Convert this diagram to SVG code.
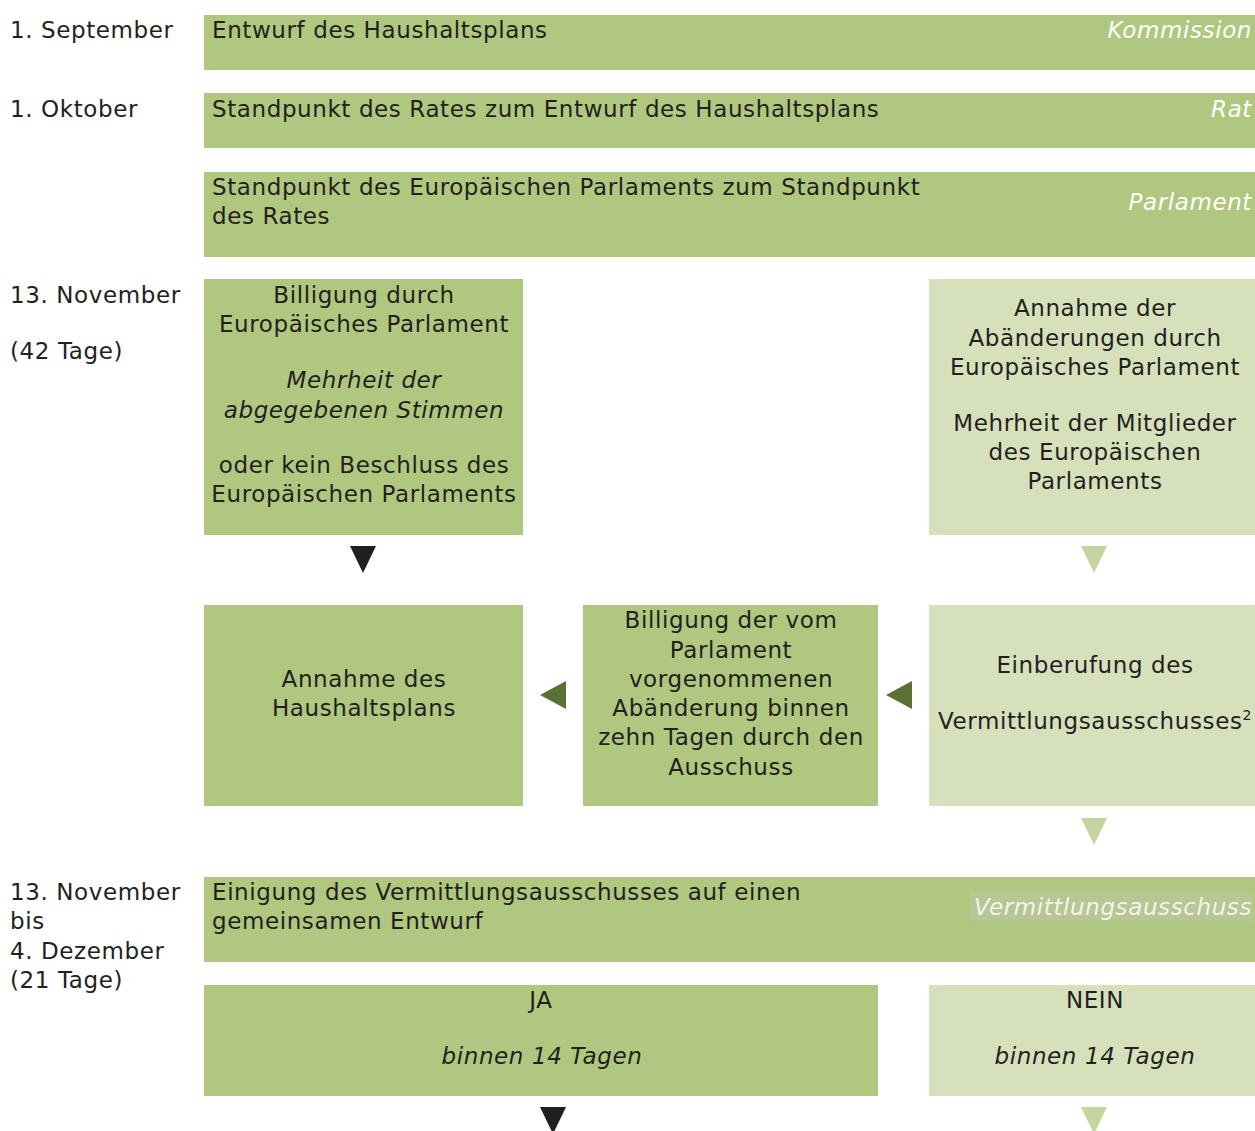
<svg xmlns="http://www.w3.org/2000/svg" width="1255" height="1131" viewBox="0 0 1255 1131">
<style>
text{font-family:"DejaVu Sans",Verdana,sans-serif;font-size:23px;letter-spacing:0.6px;fill:#231f20}
.c{text-anchor:middle}
.i{font-style:italic}
.w{fill:#ffffff;font-style:italic;text-anchor:end}
.g{fill:#b0c77f}
.l{fill:#d6e1bc}
</style>
<rect width="1255" height="1131" fill="#ffffff"/>
<g id="labels">
<text x="10" y="38">1. September</text>
<text x="10" y="117">1. Oktober</text>
<text x="10" y="303">13. November</text>
<text x="10" y="359">(42 Tage)</text>
<text x="10" y="900">13. November</text>
<text x="10" y="929">bis</text>
<text x="10" y="959">4. Dezember</text>
<text x="10" y="988">(21 Tage)</text>
</g>
<g id="entwurf">
<rect class="g" x="204" y="15" width="1051" height="55"/>
<text x="212" y="38">Entwurf des Haushaltsplans</text>
<text class="w" x="1252" y="38">Kommission</text>
</g>
<g id="rat">
<rect class="g" x="204" y="93" width="1051" height="55"/>
<text x="212" y="117">Standpunkt des Rates zum Entwurf des Haushaltsplans</text>
<text class="w" x="1252" y="117">Rat</text>
</g>
<g id="parlament">
<rect class="g" x="204" y="172" width="1051" height="85"/>
<text x="212" y="195">Standpunkt des Europäischen Parlaments zum Standpunkt</text>
<text x="212" y="224">des Rates</text>
<text class="w" x="1252" y="210">Parlament</text>
</g>
<g id="billigung">
<rect class="g" x="204" y="279" width="319" height="256"/>
<text class="c" x="364" y="303">Billigung durch</text>
<text class="c" x="364" y="332">Europäisches Parlament</text>
<text class="c i" x="364" y="388">Mehrheit der</text>
<text class="c i" x="364" y="418">abgegebenen Stimmen</text>
<text class="c" x="364" y="473">oder kein Beschluss des</text>
<text class="c" x="364" y="502">Europäischen Parlaments</text>
</g>
<g id="abaenderungen">
<rect class="l" x="929" y="279" width="326" height="256"/>
<text class="c" x="1095" y="316">Annahme der</text>
<text class="c" x="1095" y="346">Abänderungen durch</text>
<text class="c" x="1095" y="375">Europäisches Parlament</text>
<text class="c" x="1095" y="431">Mehrheit der Mitglieder</text>
<text class="c" x="1095" y="460">des Europäischen</text>
<text class="c" x="1095" y="489">Parlaments</text>
</g>
<g id="annahme">
<rect class="g" x="204" y="605" width="319" height="201"/>
<text class="c" x="364" y="687">Annahme des</text>
<text class="c" x="364" y="716">Haushaltsplans</text>
</g>
<g id="billigung-ausschuss">
<rect class="g" x="583" y="605" width="295" height="201"/>
<text class="c" x="731" y="628">Billigung der vom</text>
<text class="c" x="731" y="658">Parlament</text>
<text class="c" x="731" y="687">vorgenommenen</text>
<text class="c" x="731" y="716">Abänderung binnen</text>
<text class="c" x="731" y="745">zehn Tagen durch den</text>
<text class="c" x="731" y="775">Ausschuss</text>
</g>
<g id="einberufung">
<rect class="l" x="929" y="605" width="326" height="201"/>
<text class="c" x="1095" y="673">Einberufung des</text>
<text class="c" x="1095" y="729">Vermittlungsausschusses<tspan font-size="14" dy="-9">2</tspan></text>
</g>
<g id="einigung">
<rect class="g" x="204" y="877" width="1051" height="85"/>
<text x="212" y="900">Einigung des Vermittlungsausschusses auf einen</text>
<text x="212" y="929">gemeinsamen Entwurf</text>
<rect x="970" y="892" width="283" height="29" fill="#b8c693"/>
<text class="w" x="1252" y="915" style="fill:#f2f4ec">Vermittlungsausschuss</text>
</g>
<g id="ja">
<rect class="g" x="204" y="985" width="674" height="111"/>
<text class="c" x="541" y="1008">JA</text>
<text class="c i" x="542" y="1064">binnen 14 Tagen</text>
</g>
<g id="nein">
<rect class="l" x="929" y="985" width="326" height="111"/>
<text class="c" x="1095" y="1008">NEIN</text>
<text class="c i" x="1095" y="1064">binnen 14 Tagen</text>
</g>
<g id="connectors">
<polygon points="350,546 376,546 363,573" fill="#231f20"/>
<polygon points="1081,546 1107,546 1094,573" fill="#c4d69f"/>
<polygon points="566,681 566,709 540,695" fill="#5a7034"/>
<polygon points="912,681 912,709 886,695" fill="#5a7034"/>
<polygon points="1081,818 1107,818 1094,845" fill="#c4d69f"/>
<polygon points="540,1107 566,1107 553,1134" fill="#231f20"/>
<polygon points="1081,1107 1107,1107 1094,1134" fill="#c4d69f"/>
</g>
</svg>
